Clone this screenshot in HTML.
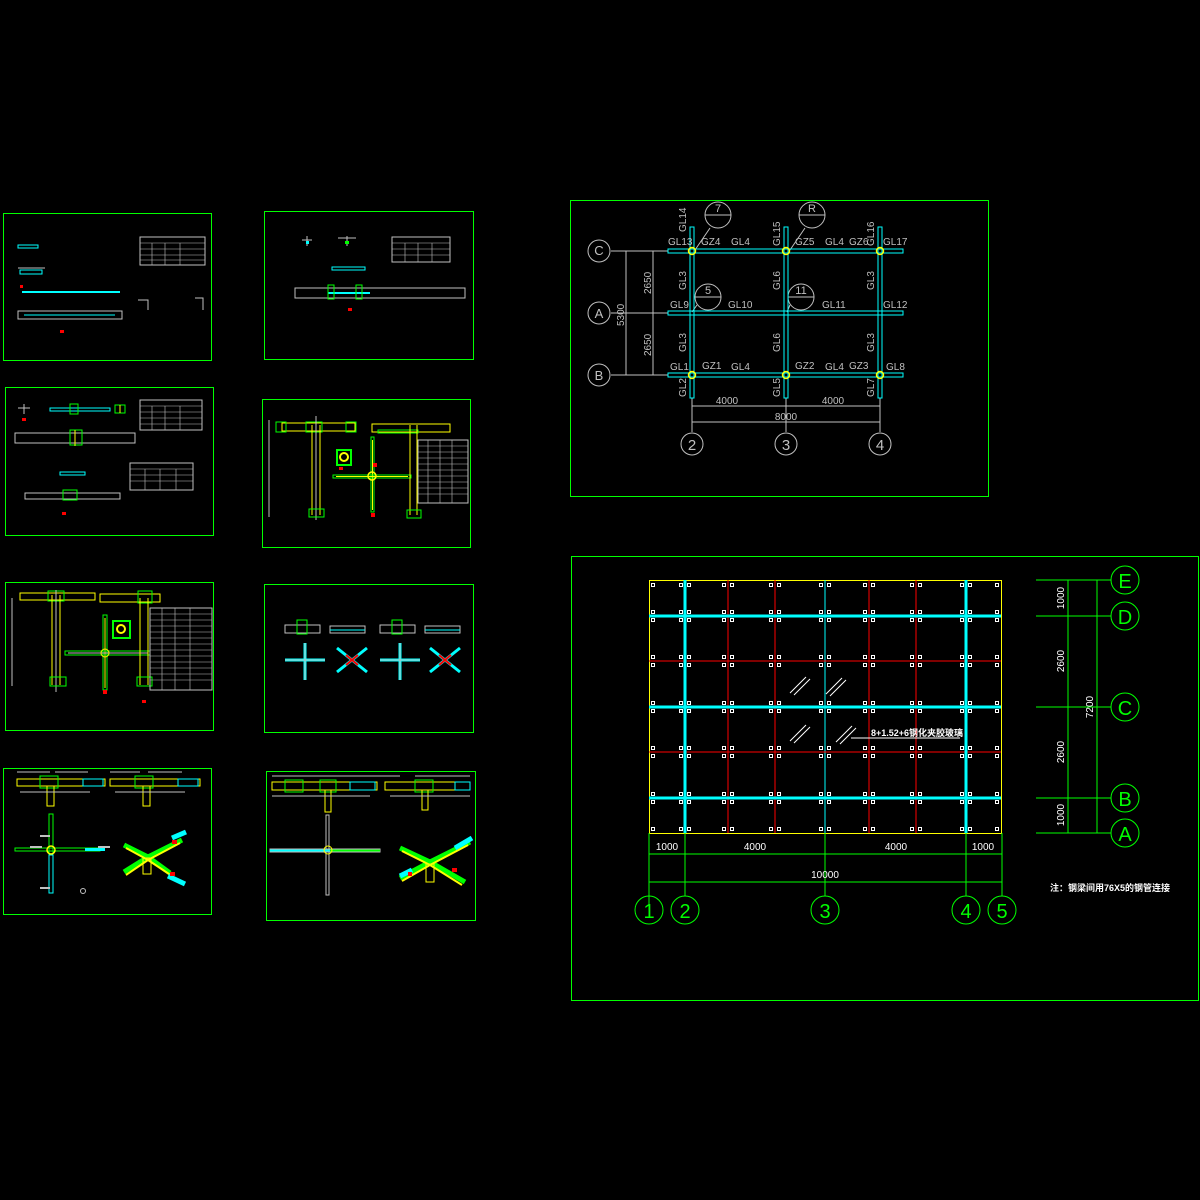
<!DOCTYPE html>
<html><head><meta charset="utf-8"><style>
html,body{margin:0;padding:0;background:#000;}
svg{display:block}
text{font-family:"Liberation Sans","Noto Sans CJK SC",sans-serif;}
</style></head><body>
<svg id="s" width="1200" height="1200" viewBox="0 0 1200 1200" xmlns="http://www.w3.org/2000/svg">
<rect width="1200" height="1200" fill="#000"/>
<g fill="none" stroke="#00ff00" stroke-width="1">
<rect x="3.5" y="213.5" width="208" height="147"/>
<rect x="264.5" y="211.5" width="209" height="148"/>
<rect x="5.5" y="387.5" width="208" height="148"/>
<rect x="262.5" y="399.5" width="208" height="148"/>
<rect x="5.5" y="582.5" width="208" height="148"/>
<rect x="264.5" y="584.5" width="209" height="148"/>
<rect x="3.5" y="768.5" width="208" height="146"/>
<rect x="266.5" y="771.5" width="209" height="149"/>
<rect x="570.5" y="200.5" width="418" height="296"/>
<rect x="571.5" y="556.5" width="627" height="444"/>
</g>

<!-- Panel 1 -->
<g stroke-width="1" fill="none">
<rect x="18" y="245" width="20" height="3" stroke="#00ffff"/>
<line x1="18" y1="268" x2="45" y2="268" stroke="#c0c0c0"/>
<rect x="20" y="270" width="22" height="4" stroke="#00ffff"/>
<line x1="22" y1="292" x2="120" y2="292" stroke="#00ffff" stroke-width="2"/>
<rect x="18" y="311" width="104" height="8" stroke="#c0c0c0"/>
<line x1="24" y1="315" x2="115" y2="315" stroke="#00ffff"/>
<rect x="140" y="237" width="65" height="28" stroke="#c0c0c0"/>
<path d="M140 243H205M140 249H205M140 255H205M140 260H205M152 243V265M165 243V265M180 243V265" stroke="#c0c0c0" stroke-width=".6"/>
<path d="M138 300h10v10M195 298h8v12" stroke="#c0c0c0"/>
<rect x="20" y="285" width="3" height="3" fill="#f00" stroke="none"/>
<rect x="60" y="330" width="4" height="3" fill="#f00" stroke="none"/>
</g>

<!-- Panel 2 -->
<g stroke-width="1" fill="none">
<path d="M302 240h10M307 236v10M338 238h18M347 236v10" stroke="#c0c0c0"/>
<rect x="306" y="241" width="3" height="3" fill="#00ffff" stroke="none"/>
<rect x="345" y="241" width="4" height="3" fill="#00ff00" stroke="none"/>
<rect x="392" y="237" width="58" height="25" stroke="#c0c0c0"/>
<path d="M392 243H450M392 249H450M392 255H450M405 243V262M418 243V262M432 243V262" stroke="#c0c0c0" stroke-width=".6"/>
<rect x="332" y="267" width="33" height="3" stroke="#00ffff"/>
<rect x="295" y="288" width="170" height="10" stroke="#c0c0c0"/>
<line x1="328" y1="293" x2="370" y2="293" stroke="#00ffff" stroke-width="2"/>
<rect x="328" y="285" width="6" height="14" stroke="#00ff00"/>
<rect x="356" y="285" width="6" height="14" stroke="#00ff00"/>
<rect x="348" y="308" width="4" height="3" fill="#f00" stroke="none"/>
</g>

<!-- Panel 3 -->
<g stroke-width="1" fill="none">
<path d="M18 408h12M24 404v10" stroke="#c0c0c0"/>
<rect x="50" y="408" width="60" height="3" stroke="#00ffff"/>
<rect x="70" y="404" width="8" height="10" stroke="#00ff00"/>
<rect x="115" y="405" width="10" height="8" stroke="#00ff00"/>
<line x1="120" y1="405" x2="120" y2="413" stroke="#ffff00"/>
<rect x="140" y="400" width="62" height="30" stroke="#c0c0c0"/>
<path d="M140 406H202M140 412H202M140 418H202M140 424H202M152 406V430M165 406V430M180 406V430" stroke="#c0c0c0" stroke-width=".6"/>
<rect x="15" y="433" width="120" height="10" stroke="#c0c0c0"/>
<rect x="70" y="430" width="12" height="15" stroke="#00ff00"/>
<line x1="75" y1="430" x2="75" y2="446" stroke="#ffff00"/>
<rect x="130" y="463" width="63" height="27" stroke="#c0c0c0"/>
<path d="M130 469H193M130 475H193M130 481H193M145 469V490M160 469V490M176 469V490" stroke="#c0c0c0" stroke-width=".6"/>
<rect x="60" y="472" width="25" height="3" stroke="#00ffff"/>
<rect x="25" y="493" width="95" height="6" stroke="#c0c0c0"/>
<rect x="63" y="490" width="14" height="10" stroke="#00ff00"/>
<rect x="22" y="418" width="4" height="3" fill="#f00" stroke="none"/>
<rect x="62" y="512" width="4" height="3" fill="#f00" stroke="none"/>
</g>

<!-- Panel 4 -->
<g stroke-width="1" fill="none">
<line x1="269" y1="420" x2="269" y2="517" stroke="#c0c0c0"/>
<rect x="282" y="423" width="73" height="8" stroke="#ffff00"/>
<rect x="276" y="422" width="10" height="10" stroke="#00ff00"/>
<rect x="306" y="422" width="16" height="10" stroke="#00ff00"/>
<rect x="346" y="422" width="10" height="10" stroke="#00ff00"/>
<line x1="312" y1="425" x2="312" y2="515" stroke="#ffff00"/>
<line x1="320" y1="425" x2="320" y2="515" stroke="#ffff00"/>
<line x1="316" y1="416" x2="316" y2="520" stroke="#c0c0c0"/>
<rect x="309" y="509" width="15" height="8" stroke="#00ff00"/>
<rect x="337" y="450" width="14" height="15" stroke="#00ff00" stroke-width="2"/>
<circle cx="344" cy="457" r="4" stroke="#ffff00" stroke-width="2"/>
<rect x="371" y="437" width="3" height="75" stroke="#00ff00"/>
<line x1="372.5" y1="440" x2="372.5" y2="510" stroke="#ffff00"/>
<rect x="333" y="475" width="78" height="3" stroke="#00ff00"/>
<line x1="336" y1="476.5" x2="408" y2="476.5" stroke="#ffff00"/>
<circle cx="372" cy="476" r="4" stroke="#ffff00" stroke-width="1.5"/>
<rect x="372" y="424" width="78" height="8" stroke="#ffff00"/>
<rect x="378" y="430" width="40" height="3" stroke="#00ff00"/>
<line x1="410" y1="425" x2="410" y2="515" stroke="#ffff00"/>
<line x1="417" y1="425" x2="417" y2="515" stroke="#ffff00"/>
<rect x="407" y="510" width="14" height="8" stroke="#00ff00"/>
<rect x="418" y="440" width="50" height="63" stroke="#c0c0c0"/>
<path d="M418 446H468M418 452H468M418 458H468M418 464H468M418 470H468M418 476H468M418 482H468M418 488H468M418 494H468M428 440V503M440 440V503M452 440V503" stroke="#c0c0c0" stroke-width=".6"/>
<rect x="373" y="463" width="4" height="4" fill="#f00" stroke="none"/>
<rect x="371" y="513" width="4" height="4" fill="#f00" stroke="none"/>
<rect x="339" y="467" width="4" height="3" fill="#f00" stroke="none"/>
</g>

<!-- Panel 5 -->
<g stroke-width="1" fill="none">
<line x1="12" y1="598" x2="12" y2="686" stroke="#c0c0c0"/>
<rect x="20" y="593" width="75" height="7" stroke="#ffff00"/>
<rect x="48" y="591" width="16" height="10" stroke="#00ff00"/>
<line x1="52" y1="595" x2="52" y2="685" stroke="#ffff00"/>
<line x1="60" y1="595" x2="60" y2="685" stroke="#ffff00"/>
<line x1="56" y1="590" x2="56" y2="692" stroke="#c0c0c0"/>
<rect x="50" y="677" width="16" height="9" stroke="#00ff00"/>
<rect x="113" y="621" width="17" height="17" stroke="#00ff00" stroke-width="2"/>
<circle cx="121" cy="629" r="4" stroke="#ffff00" stroke-width="2"/>
<rect x="103" y="615" width="4" height="75" stroke="#00ff00"/>
<line x1="105" y1="618" x2="105" y2="688" stroke="#ffff00"/>
<rect x="65" y="651" width="85" height="4" stroke="#00ff00"/>
<line x1="68" y1="653" x2="148" y2="653" stroke="#c0c0c0"/>
<circle cx="105" cy="653" r="4" stroke="#ffff00"/>
<rect x="100" y="594" width="60" height="8" stroke="#ffff00"/>
<rect x="138" y="591" width="14" height="12" stroke="#00ff00"/>
<line x1="140" y1="598" x2="140" y2="685" stroke="#ffff00"/>
<line x1="148" y1="598" x2="148" y2="685" stroke="#ffff00"/>
<rect x="137" y="677" width="15" height="9" stroke="#00ff00"/>
<rect x="150" y="608" width="62" height="82" stroke="#c0c0c0"/>
<path d="M150 614H212M150 620H212M150 626H212M150 632H212M150 638H212M150 644H212M150 650H212M150 656H212M150 662H212M150 668H212M150 674H212M150 680H212M162 608V690M175 608V690M190 608V690" stroke="#c0c0c0" stroke-width=".6"/>
<rect x="103" y="690" width="4" height="4" fill="#f00" stroke="none"/>
<rect x="142" y="700" width="4" height="3" fill="#f00" stroke="none"/>
</g>

<!-- Panel 6 -->
<g stroke-width="1" fill="none">
<rect x="285" y="625" width="35" height="8" stroke="#c0c0c0"/><rect x="297" y="620" width="10" height="14" stroke="#00ff00"/>
<rect x="330" y="626" width="35" height="7" stroke="#c0c0c0"/><line x1="330" y1="630" x2="365" y2="630" stroke="#00ffff"/>
<rect x="380" y="625" width="35" height="8" stroke="#c0c0c0"/><rect x="392" y="620" width="10" height="14" stroke="#00ff00"/>
<rect x="425" y="626" width="35" height="7" stroke="#c0c0c0"/><line x1="425" y1="630" x2="460" y2="630" stroke="#00ffff"/>
<g stroke="#00ffff" stroke-width="3"><path d="M305 643V680M285 660H325"/><path d="M400 643V680M380 660H420"/></g>
<g stroke="#c0c0c0"><path d="M305 643V680M285 660H325"/><path d="M400 643V680M380 660H420"/></g>
<g stroke="#00ffff" stroke-width="3"><path d="M337 648L367 672M337 672L367 648"/><path d="M430 648L460 672M430 672L460 648"/></g>
<g stroke="#ff0000" stroke-width="2"><path d="M346 655L358 665M346 665L358 655"/><path d="M439 655L451 665M439 665L451 655"/></g>
</g>

<!-- Panel 7 -->
<g stroke-width="1" fill="none">
<path d="M17 772H50M55 772H88M110 772H140M148 772H182" stroke="#c0c0c0"/>
<rect x="17" y="779" width="88" height="7" stroke="#ffff00"/>
<rect x="40" y="776" width="18" height="12" stroke="#00ff00"/>
<rect x="83" y="779" width="20" height="7" stroke="#00ffff"/>
<rect x="110" y="779" width="90" height="7" stroke="#ffff00"/>
<rect x="135" y="776" width="18" height="12" stroke="#00ff00"/>
<rect x="178" y="779" width="20" height="7" stroke="#00ffff"/>
<rect x="47" y="786" width="7" height="20" stroke="#ffff00"/>
<rect x="143" y="786" width="7" height="20" stroke="#ffff00"/>
<path d="M20 792H90M115 792H185" stroke="#c0c0c0"/>
<rect x="49" y="814" width="4" height="40" stroke="#00ff00"/>
<rect x="49" y="855" width="4" height="38" stroke="#00ffff"/>
<rect x="15" y="848" width="85" height="3" stroke="#00ff00"/>
<line x1="85" y1="849.5" x2="105" y2="849.5" stroke="#00ffff" stroke-width="3"/>
<circle cx="51" cy="850" r="4" stroke="#ffff00" stroke-width="1.5"/>
<path d="M40 836h10M40 888h10M30 847h12M98 847h12" stroke="#c0c0c0" stroke-width="2"/>
<g stroke-width="5" stroke-linecap="butt">
<path d="M124 845L148 857L182 840" stroke="#00ff00"/>
<path d="M124 872L148 857L170 873" stroke="#00ff00"/>
<path d="M126 848L148 860L180 843" stroke="#ffff00" stroke-width="2"/>
<path d="M126 875L148 860L172 876" stroke="#ffff00" stroke-width="2"/>
<path d="M172 838L186 832" stroke="#00ffff"/><path d="M168 876L185 884" stroke="#00ffff"/>
</g>
<rect x="143" y="858" width="8" height="16" stroke="#ffff00"/>
<rect x="172" y="840" width="5" height="4" fill="#f00" stroke="none"/>
<rect x="170" y="872" width="5" height="4" fill="#f00" stroke="none"/>
<circle cx="83" cy="891" r="2.5" stroke="#c0c0c0"/>
</g>

<!-- Panel 8 -->
<g stroke-width="1" fill="none">
<path d="M272 776H400M415 776H470" stroke="#c0c0c0"/>
<rect x="272" y="782" width="105" height="8" stroke="#ffff00"/>
<rect x="285" y="780" width="18" height="12" stroke="#00ff00"/>
<rect x="320" y="780" width="16" height="12" stroke="#00ff00"/>
<rect x="350" y="782" width="25" height="8" stroke="#00ffff"/>
<rect x="385" y="782" width="85" height="8" stroke="#ffff00"/>
<rect x="415" y="780" width="18" height="12" stroke="#00ff00"/>
<rect x="455" y="782" width="15" height="8" stroke="#00ffff"/>
<rect x="325" y="790" width="6" height="22" stroke="#ffff00"/>
<rect x="422" y="790" width="6" height="20" stroke="#ffff00"/>
<path d="M272 796H370M390 796H470" stroke="#c0c0c0"/>
<rect x="326" y="815" width="3" height="80" stroke="#c0c0c0"/>
<rect x="270" y="849" width="110" height="3" stroke="#c0c0c0"/>
<line x1="270" y1="850.5" x2="330" y2="850.5" stroke="#00ffff" stroke-width="2"/>
<line x1="330" y1="850.5" x2="380" y2="850.5" stroke="#00ff00" stroke-width="2"/>
<circle cx="328" cy="850" r="4" stroke="#ffff00"/>
<g stroke-width="5">
<path d="M400 848L430 862L470 842" stroke="#00ff00"/>
<path d="M400 878L430 862L465 882" stroke="#00ff00"/>
<path d="M402 851L430 865L468 845" stroke="#ffff00" stroke-width="2"/>
<path d="M402 881L430 865L462 885" stroke="#ffff00" stroke-width="2"/>
<path d="M455 848L472 838" stroke="#00ffff"/><path d="M400 876L412 870" stroke="#00ffff"/>
</g>
<rect x="426" y="864" width="8" height="18" stroke="#ffff00"/>
<rect x="452" y="868" width="5" height="4" fill="#f00" stroke="none"/>
<rect x="408" y="872" width="4" height="4" fill="#f00" stroke="none"/>
</g>

<!-- Top right plan -->
<g fill="none" stroke="#c0c0c0" stroke-width="1">
<path d="M611 251H668M611 313H668M611 375H668"/>
<path d="M620 251H632M647 251H659M620 375H632M647 375H659M647 313H659"/>
<line x1="626" y1="251" x2="626" y2="375"/>
<line x1="653" y1="251" x2="653" y2="375"/>
<path d="M692 398V432M786 398V432M880 398V432"/>
<line x1="692" y1="406" x2="880" y2="406"/>
<line x1="692" y1="422" x2="880" y2="422"/>
<circle cx="599" cy="251" r="11"/><circle cx="599" cy="313" r="11"/><circle cx="599" cy="375" r="11"/>
<circle cx="692" cy="444" r="11"/><circle cx="786" cy="444" r="11"/><circle cx="880" cy="444" r="11"/>
<circle cx="718" cy="215" r="13"/><line x1="705" y1="215" x2="731" y2="215"/>
<circle cx="812" cy="215" r="13"/><line x1="799" y1="215" x2="825" y2="215"/>
<circle cx="708" cy="297" r="13"/><line x1="695" y1="297" x2="721" y2="297"/>
<circle cx="801" cy="297" r="13"/><line x1="788" y1="297" x2="814" y2="297"/>
<path d="M710 228L695 250M805 228L790 250M697 305L692 312M790 305L787 312"/>
</g>
<g fill="none" stroke="#00ffff" stroke-width="1">
<rect x="668" y="249" width="235" height="4"/>
<rect x="668" y="311" width="235" height="4"/>
<rect x="668" y="373" width="235" height="4"/>
<rect x="690" y="227" width="4" height="171"/>
<rect x="784" y="227" width="4" height="171"/>
<rect x="878" y="227" width="4" height="171"/>
</g>
<g fill="none" stroke="#ffff00" stroke-width="1.5">
<circle cx="692" cy="251" r="3.5"/><circle cx="786" cy="251" r="3.5"/><circle cx="880" cy="251" r="3.5"/>
<circle cx="692" cy="375" r="3.5"/><circle cx="786" cy="375" r="3.5"/><circle cx="880" cy="375" r="3.5"/>
</g>
<g fill="#c0c0c0" font-size="10">
<text x="599" y="255" text-anchor="middle" font-size="13">C</text>
<text x="599" y="318" text-anchor="middle" font-size="13">A</text>
<text x="599" y="380" text-anchor="middle" font-size="13">B</text>
<text x="692" y="450" text-anchor="middle" font-size="15">2</text>
<text x="786" y="450" text-anchor="middle" font-size="15">3</text>
<text x="880" y="450" text-anchor="middle" font-size="15">4</text>
<text x="718" y="212" text-anchor="middle" font-size="11">7</text>
<text x="812" y="212" text-anchor="middle" font-size="11">R</text>
<text x="708" y="294" text-anchor="middle" font-size="11">5</text>
<text x="801" y="294" text-anchor="middle" font-size="11">11</text>
<text x="668" y="245">GL13</text><text x="701" y="245">GZ4</text><text x="731" y="245">GL4</text>
<text x="795" y="245">GZ5</text><text x="825" y="245">GL4</text><text x="849" y="245">GZ6</text><text x="883" y="245">GL17</text>
<text x="670" y="308">GL9</text><text x="728" y="308">GL10</text><text x="822" y="308">GL11</text><text x="883" y="308">GL12</text>
<text x="670" y="370">GL1</text><text x="702" y="369">GZ1</text><text x="731" y="370">GL4</text>
<text x="795" y="369">GZ2</text><text x="825" y="370">GL4</text><text x="849" y="369">GZ3</text><text x="886" y="370">GL8</text>
<text x="727" y="404" text-anchor="middle">4000</text><text x="833" y="404" text-anchor="middle">4000</text>
<text x="786" y="420" text-anchor="middle">8000</text>
<g font-size="10">
<text transform="translate(686,232) rotate(-90)">GL14</text>
<text transform="translate(780,246) rotate(-90)">GL15</text>
<text transform="translate(874,246) rotate(-90)">GL16</text>
<text transform="translate(686,290) rotate(-90)">GL3</text>
<text transform="translate(780,290) rotate(-90)">GL6</text>
<text transform="translate(874,290) rotate(-90)">GL3</text>
<text transform="translate(686,352) rotate(-90)">GL3</text>
<text transform="translate(780,352) rotate(-90)">GL6</text>
<text transform="translate(874,352) rotate(-90)">GL3</text>
<text transform="translate(686,397) rotate(-90)">GL2</text>
<text transform="translate(780,397) rotate(-90)">GL5</text>
<text transform="translate(874,397) rotate(-90)">GL7</text>
<text transform="translate(651,294) rotate(-90)">2650</text>
<text transform="translate(651,356) rotate(-90)">2650</text>
<text transform="translate(624,326) rotate(-90)">5300</text>
</g>
</g>

<!-- Bottom right plan -->
<g fill="none" stroke-width="1">
<rect x="649.5" y="580.5" width="352" height="253" stroke="#ffff00"/>
<line x1="825" y1="580" x2="825" y2="833" stroke="#00ffff"/>
<g stroke="#ff0000"><path d="M728 580V833M775 580V833M869 580V833M916 580V833M649 661H1001M649 752H1001"/></g>
<g stroke="#00ffff" stroke-width="3"><path d="M685 580V833M966 580V833M649 616H1001M649 707H1001M649 798H1001"/></g>
<g stroke="#ffffff"><path d="M790 693L806 677M794 695L810 679M826 694L842 678M830 696L846 680M790 741L806 725M794 743L810 727M836 742L852 726M840 744L856 728M851 738H960"/></g>
</g>
<g id="bolts" fill="none" stroke="#ffffff" stroke-width="1"></g>
<text x="871" y="736" fill="#ffffff" font-size="9" font-weight="bold">8+1.52+6钢化夹胶玻璃</text>
<g fill="none" stroke="#00ff00" stroke-width="1">
<path d="M649 833V910M685 833V896M825 833V896M966 833V896M1002 833V896"/>
<line x1="649" y1="854" x2="1002" y2="854"/>
<line x1="649" y1="882" x2="1002" y2="882"/>
<path d="M1036 580H1111M1036 616H1111M1036 707H1111M1036 798H1111M1036 833H1111"/>
<line x1="1068" y1="580" x2="1068" y2="833"/>
<line x1="1097" y1="580" x2="1097" y2="833"/>
<circle cx="649" cy="910" r="14"/><circle cx="685" cy="910" r="14"/><circle cx="825" cy="910" r="14"/><circle cx="966" cy="910" r="14"/><circle cx="1002" cy="910" r="14"/>
<circle cx="1125" cy="580" r="14"/><circle cx="1125" cy="616" r="14"/><circle cx="1125" cy="707" r="14"/><circle cx="1125" cy="798" r="14"/><circle cx="1125" cy="833" r="14"/>
</g>
<g fill="#00ff00" font-size="20" text-anchor="middle" font-family="Liberation Serif">
<text x="649" y="918" font-family="Liberation Serif">1</text><text x="685" y="918" font-family="Liberation Serif">2</text><text x="825" y="918" font-family="Liberation Serif">3</text><text x="966" y="918" font-family="Liberation Serif">4</text><text x="1002" y="918" font-family="Liberation Serif">5</text>
<text x="1125" y="588" font-family="Liberation Serif">E</text><text x="1125" y="624" font-family="Liberation Serif">D</text><text x="1125" y="715" font-family="Liberation Serif">C</text><text x="1125" y="806" font-family="Liberation Serif">B</text><text x="1125" y="841" font-family="Liberation Serif">A</text>
</g>
<g fill="#ffffff" font-size="10" text-anchor="middle">
<text x="667" y="850">1000</text><text x="755" y="850">4000</text><text x="896" y="850">4000</text><text x="983" y="850">1000</text>
<text x="825" y="878">10000</text>
<text transform="translate(1064,598) rotate(-90)">1000</text>
<text transform="translate(1064,661) rotate(-90)">2600</text>
<text transform="translate(1064,752) rotate(-90)">2600</text>
<text transform="translate(1064,815) rotate(-90)">1000</text>
<text transform="translate(1093,707) rotate(-90)">7200</text>
</g>
<text x="1050" y="891" fill="#ffffff" font-size="9" font-weight="bold">注：钢梁间用76X5的钢管连接</text>
</svg>
<script>
(function(){
var g=document.getElementById('bolts'),ns='http://www.w3.org/2000/svg',s='';
var xs=[653,681,689,724,732,771,779,821,829,865,873,912,920,962,970,997];
var ys=[585,612,620,657,665,703,711,748,756,794,802,829];
ys.forEach(function(y){xs.forEach(function(x){s+='<rect x="'+(x-1.5)+'" y="'+(y-1.5)+'" width="3" height="3"/>';});});
g.innerHTML=s;
})();
</script>
</body></html>
